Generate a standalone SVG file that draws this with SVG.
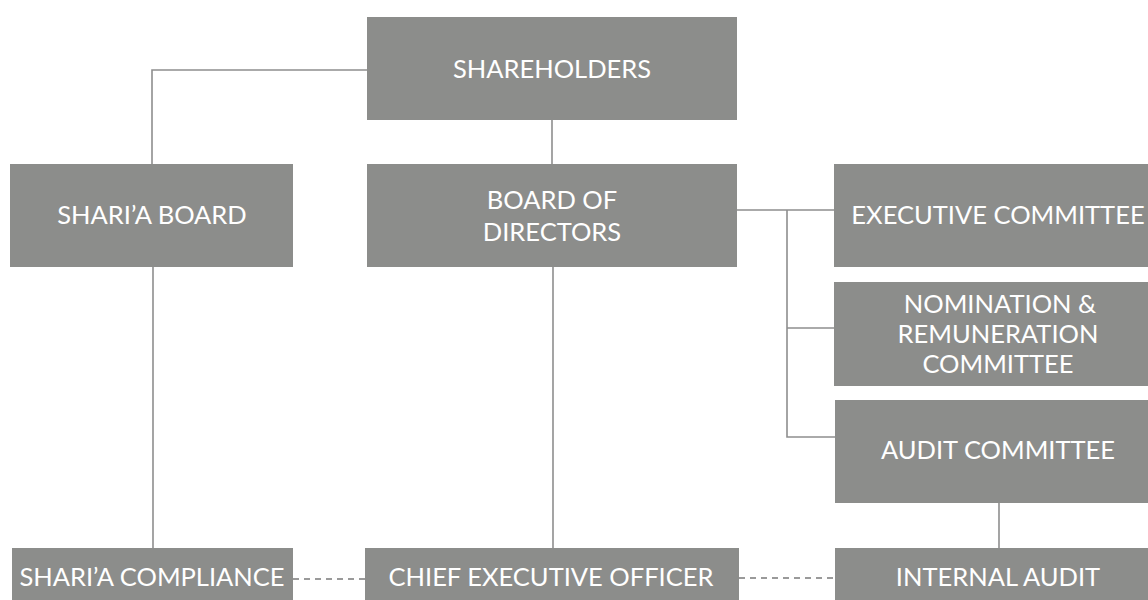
<svg xmlns="http://www.w3.org/2000/svg" width="1148" height="600" viewBox="0 0 1148 600">
  <style>
    .box { fill: #8c8d8b; }
    .lbl { font-family: Lato, "Open Sans", "Liberation Sans", sans-serif; font-size: 25.5px; font-weight: 400; fill: #ffffff; text-anchor: middle; }
    .ln { fill: none; stroke: #8e8e8e; stroke-width: 1.6; }
    .dash { fill: none; stroke: #9a9a9a; stroke-width: 1.8; stroke-dasharray: 6 5; }
  </style>
  <rect width="1148" height="600" fill="#ffffff"/>
  <g id="connectors">
    <polyline class="ln" points="367,70 152,70 152,164"/>
    <line class="ln" x1="552" y1="120" x2="552" y2="164"/>
    <line class="ln" x1="153" y1="267" x2="153" y2="548"/>
    <line class="ln" x1="553" y1="267" x2="553" y2="548"/>
    <line class="ln" x1="737" y1="210" x2="834" y2="210"/>
    <polyline class="ln" points="787,210 787,437 835,437"/>
    <line class="ln" x1="787" y1="328" x2="834" y2="328"/>
    <line class="ln" x1="999" y1="503" x2="999" y2="548"/>
    <line class="dash" x1="293" y1="579" x2="365" y2="579"/>
    <line class="dash" x1="739" y1="578" x2="835" y2="578"/>
  </g>
  <g id="shareholders">
    <rect class="box" x="367" y="17" width="370" height="103"/>
    <text class="lbl" x="552" y="78">SHAREHOLDERS</text>
  </g>
  <g id="sharia-board">
    <rect class="box" x="10" y="164" width="283" height="103"/>
    <text class="lbl" x="152" y="224">SHARI’A BOARD</text>
  </g>
  <g id="board-of-directors">
    <rect class="box" x="367" y="164" width="370" height="103"/>
    <text class="lbl" x="552" y="209">BOARD OF</text>
    <text class="lbl" x="552" y="241">DIRECTORS</text>
  </g>
  <g id="executive-committee">
    <rect class="box" x="834" y="164" width="328" height="103"/>
    <text class="lbl" x="998" y="224">EXECUTIVE COMMITTEE</text>
  </g>
  <g id="nomination-remuneration-committee">
    <rect class="box" x="834" y="282" width="328" height="104"/>
    <text class="lbl" x="1000" y="313">NOMINATION &amp;</text>
    <text class="lbl" x="998" y="343">REMUNERATION</text>
    <text class="lbl" x="998" y="373">COMMITTEE</text>
  </g>
  <g id="audit-committee">
    <rect class="box" x="835" y="400" width="327" height="103"/>
    <text class="lbl" x="998" y="459">AUDIT COMMITTEE</text>
  </g>
  <g id="sharia-compliance">
    <rect class="box" x="12" y="548" width="281" height="60"/>
    <text class="lbl" x="152" y="586">SHARI’A COMPLIANCE</text>
  </g>
  <g id="chief-executive-officer">
    <rect class="box" x="365" y="548" width="374" height="60"/>
    <text class="lbl" x="551" y="586">CHIEF EXECUTIVE OFFICER</text>
  </g>
  <g id="internal-audit">
    <rect class="box" x="835" y="548" width="327" height="60"/>
    <text class="lbl" x="998" y="586">INTERNAL AUDIT</text>
  </g>
</svg>
